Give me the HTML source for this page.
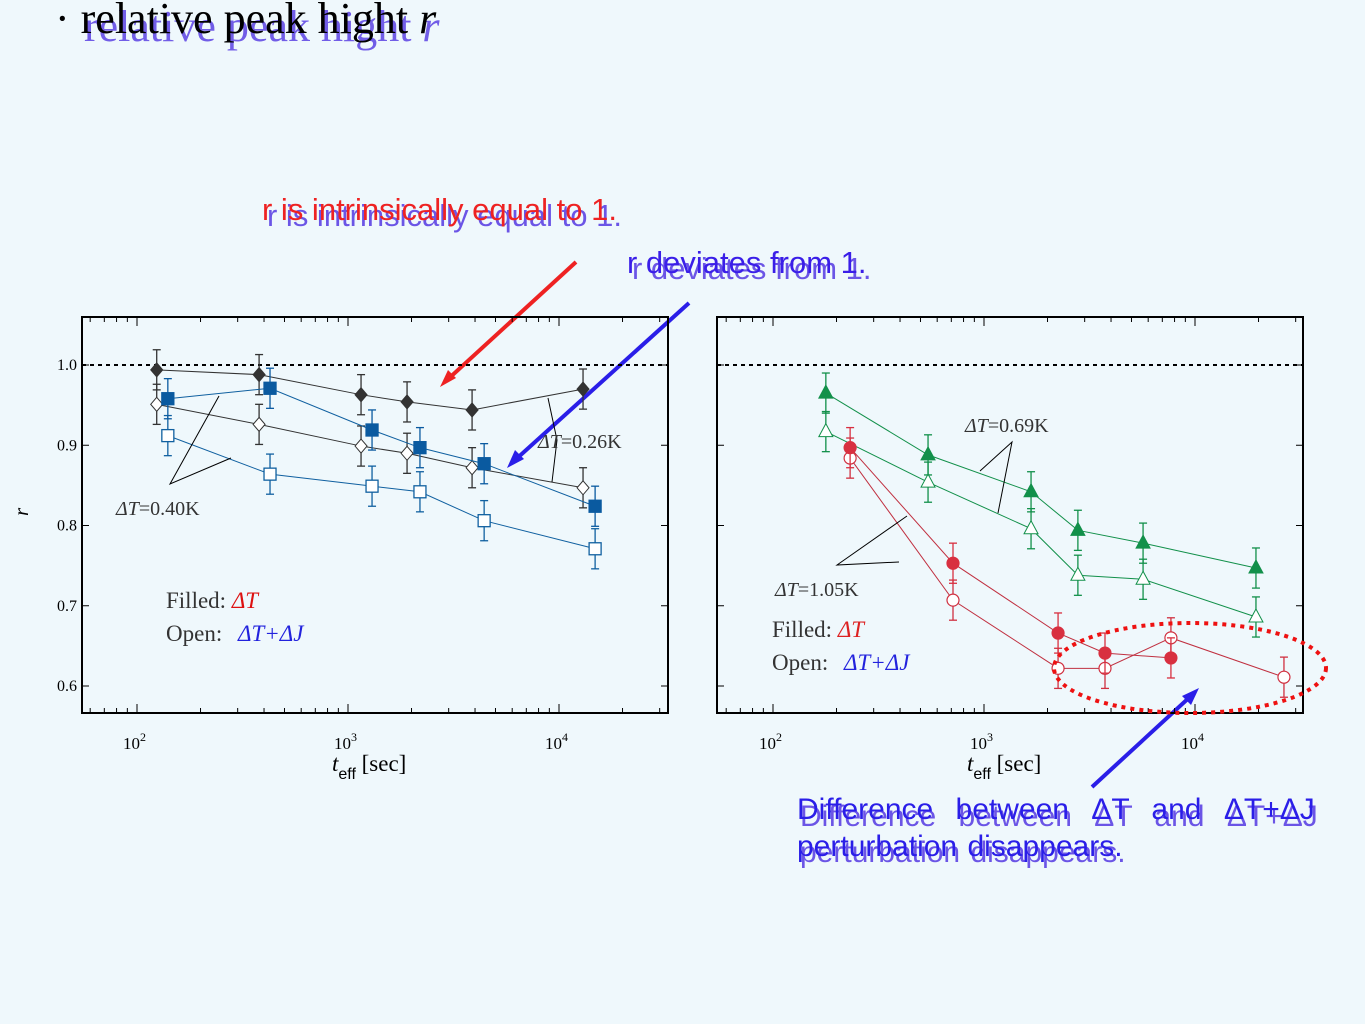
<!DOCTYPE html>
<html><head><meta charset="utf-8">
<style>
body{margin:0;width:1365px;height:1024px;background:#eff8fc;overflow:hidden;font-family:"Liberation Serif",serif;}
svg{position:absolute;left:0;top:0}
</style></head>
<body>
<svg id="s" width="1365" height="1024" xmlns="http://www.w3.org/2000/svg">
<g font-family="Liberation Serif, serif" font-size="44">
<text x="84" y="41" fill="#6b55e6" opacity="0.95">relative peak hight <tspan font-style="italic">r</tspan></text>
<text x="55" y="33" fill="#000">· relative peak hight <tspan font-style="italic">r</tspan></text>
</g>
<g font-family="Liberation Sans, sans-serif" font-size="31">
<text x="267" y="226" fill="#6b55e6">r is intrinsically equal to 1.</text>
<text x="262" y="220" fill="#ee2222">r is intrinsically equal to 1.</text>
</g>
<g font-family="Liberation Sans, sans-serif" font-size="31">
<text x="632" y="279" fill="#6b55e6">r deviates from 1.</text>
<text x="627" y="273" fill="#3a1ee8">r deviates from 1.</text>
</g>
<g font-family="Liberation Sans, sans-serif" font-size="30" word-spacing="14">
<text x="800" y="826" fill="#6b55e6">Difference between ΔT and ΔT+ΔJ</text>
<text x="797" y="819" fill="#2a1ee8">Difference between ΔT and ΔT+ΔJ</text>
<text x="800" y="862" fill="#6b55e6" word-spacing="2">perturbation disappears.</text>
<text x="797" y="856" fill="#2a1ee8" word-spacing="2">perturbation disappears.</text>
</g>
<g>
<line x1="576" y1="262" x2="446" y2="381" stroke="#ee2222" stroke-width="4"/>
<polygon points="440,387 448,370 456,378" fill="#ee2222"/>
<line x1="689" y1="303" x2="514" y2="461" stroke="#2a1ee8" stroke-width="4"/>
<polygon points="507,468 515,450 524,459" fill="#2a1ee8"/>
<line x1="1092" y1="787" x2="1192" y2="695" stroke="#2a1ee8" stroke-width="4"/>
<polygon points="1199,688 1191,705 1182,696" fill="#2a1ee8"/>
</g>
<g id="p1"></g><g id="p2"></g>
<ellipse cx="1190" cy="668" rx="136" ry="45" fill="none" stroke="#ee1111" stroke-width="4" stroke-dasharray="4,5"/>
</svg>
<script>
// Left chart data
const xL_black=[124,379,1153,1905,3873,13000];
const yL_filledDiamond=[0.994,0.988,0.963,0.954,0.944,0.970];
const yL_openDiamond=[0.951,0.926,0.899,0.890,0.872,0.847];
const xL_blue=[140,427,1300,2193,4418,14830];
const yL_filledSquare=[0.958,0.971,0.919,0.897,0.877,0.824];
const yL_openSquare=[0.912,0.864,0.849,0.842,0.806,0.771];
// Right chart data
const xR_green=[178,543,1671,2786,5674,19450];
const yR_filledTri=[0.965,0.888,0.842,0.794,0.778,0.747];
const yR_openTri=[0.917,0.854,0.796,0.738,0.733,0.686];
const xR_redFilled=[232,713,2244,3745,7690];
const yR_filledCircle=[0.897,0.753,0.666,0.641,0.635];
const xR_redOpen=[232,713,2244,3745,7690,26400];
const yR_openCircle=[0.884,0.707,0.622,0.622,0.660,0.611];
const yTicks=[0.6,0.7,0.8,0.9,1.0];
const yTickLabels=["0.6","0.7","0.8","0.9","1.0"];
const xDecades=[2,3,4];
const errR=0.025;

const NS="http://www.w3.org/2000/svg";
function mk(parent,tag,attrs){const e=document.createElementNS(NS,tag);for(const k in attrs)e.setAttribute(k,attrs[k]);parent.appendChild(e);return e;}
function yS(v){return 365+(1.0-v)*802.5;}

function frame(g,x0,x1,dec0,showY,titleX){
  const xs=v=>dec0+(Math.log10(v)-2)*211;
  const r=mk(g,'rect',{x:x0,y:317,width:x1-x0,height:396,fill:'none',stroke:'#000','stroke-width':2});
  
  
  const dl=mk(g,'line',{x1:x0,x2:x1,y1:yS(1),y2:yS(1),stroke:'#000','stroke-width':2,'stroke-dasharray':'4,4'});
  
  
  yTicks.forEach((t,i)=>{
    mk(g,'line',{x1:x0,x2:x0+7,y1:yS(t),y2:yS(t),stroke:'#000'});
    mk(g,'line',{x1:x1-7,x2:x1,y1:yS(t),y2:yS(t),stroke:'#000'});
    if(showY){const tx=mk(g,'text',{x:x0-5,y:yS(t)+5,'text-anchor':'end','font-size':16,fill:'#000'});tx.textContent=yTickLabels[i];
      
      }
  });
  for(let d=1;d<=4;d++)for(let m=1;m<10;m++){
    const v=Math.pow(10,d)*m;const px=xs(v);if(px<x0||px>x1)continue;
    const L=m==1?9:5;
    mk(g,'line',{x1:px,x2:px,y1:713,y2:713-L,stroke:'#000'});
    mk(g,'line',{x1:px,x2:px,y1:317,y2:317+L,stroke:'#000'});
  }
  xDecades.forEach(d=>{
    const tx=mk(g,'text',{x:xs(Math.pow(10,d))-14,y:749,'font-size':17,fill:'#000'});
    tx.innerHTML='10<tspan dy="-8" font-size="12">'+d+'</tspan>';
    
    
  });
  const xl=mk(g,'text',{x:titleX,y:771,'font-size':23,fill:'#000'});
  xl.innerHTML='<tspan font-style="italic">t</tspan><tspan dy="8" font-size="16" font-family="Liberation Sans">eff</tspan><tspan dy="-8"> [sec]</tspan>';
  
  
  return xs;
}

function series(g,name,xsArr,ysArr,xs,color,marker,filled,lineColor){
  const sg=mk(g,'g',{});
  
  
  const pts=xsArr.map((x,i)=>[xs(x),yS(ysArr[i])]);
  mk(sg,'polyline',{points:pts.map(p=>p.join(',')).join(' '),fill:'none',stroke:lineColor,'stroke-width':1});
  pts.forEach(([px,py],i)=>{
    const e=errR*802.5;
    mk(sg,'line',{x1:px,x2:px,y1:py-e,y2:py+e,stroke:color,'stroke-width':1.3});
    mk(sg,'line',{x1:px-4,x2:px+4,y1:py-e,y2:py-e,stroke:color,'stroke-width':1.3});
    mk(sg,'line',{x1:px-4,x2:px+4,y1:py+e,y2:py+e,stroke:color,'stroke-width':1.3});
    const f=filled?color:'#fff';let m;
    if(marker=='diamond')m=mk(sg,'polygon',{points:`${px},${py-7} ${px+6},${py} ${px},${py+7} ${px-6},${py}`,fill:f,stroke:color});
    else if(marker=='square')m=mk(sg,'rect',{x:px-6,y:py-6,width:12,height:12,fill:f,stroke:color,'stroke-width':1.3});
    else if(marker=='tri')m=mk(sg,'polygon',{points:`${px},${py-8} ${px+7},${py+5} ${px-7},${py+5}`,fill:f,stroke:color});
    else m=mk(sg,'circle',{cx:px,cy:py,r:6,fill:f,stroke:color,'stroke-width':1.2});
    
    
  });
}

const g1=document.getElementById('p1');


const xs1=frame(g1,82,668,137,true,332);
series(g1,'black-open-diamonds',xL_black,yL_openDiamond,xs1,'#333','diamond',false,'#333');
series(g1,'black-filled-diamonds',xL_black,yL_filledDiamond,xs1,'#333','diamond',true,'#333');
series(g1,'blue-open-squares',xL_blue,yL_openSquare,xs1,'#1060a0','square',false,'#1060a0');
series(g1,'blue-filled-squares',xL_blue,yL_filledSquare,xs1,'#0a5aa0','square',true,'#1060a0');

const g2=document.getElementById('p2');


const xs2=frame(g2,717,1303,773,false,967);
series(g2,'green-open-triangles',xR_green,yR_openTri,xs2,'#12904a','tri',false,'#12904a');
series(g2,'green-filled-triangles',xR_green,yR_filledTri,xs2,'#12904a','tri',true,'#12904a');
series(g2,'red-open-circles',xR_redOpen,yR_openCircle,xs2,'#d03040','circle',false,'#c03040');
series(g2,'red-filled-circles',xR_redFilled,yR_filledCircle,xs2,'#d83040','circle',true,'#c03040');

const s=document.getElementById('s');
const extra=`
<text x="28" y="516" font-size="21" font-style="italic" transform="rotate(-90 28 516)">r</text>
<g stroke="#000" stroke-width="1" fill="none">
<polyline points="219,396 170,484 231,458"/></g>
<text x="116" y="515" font-size="20" fill="#333"><tspan font-style="italic">ΔT</tspan>=0.40K</text>
<g stroke="#000" stroke-width="1" fill="none">
<polyline points="548,398 557,440 552,482"/></g>
<text x="538" y="448" font-size="20" fill="#333"><tspan font-style="italic">ΔT</tspan>=0.26K</text>
<text x="166" y="608" font-size="23" fill="#333">Filled: <tspan fill="#dd1111" font-style="italic">ΔT</tspan></text>
<text x="166" y="641" font-size="23" fill="#333">Open:  <tspan fill="#2222dd" font-style="italic" dx="10">ΔT+ΔJ</tspan></text>
<g stroke="#000" stroke-width="1" fill="none">
<polyline points="980,471 1012,442 998,513"/></g>
<text x="965" y="432" font-size="20" fill="#333"><tspan font-style="italic">ΔT</tspan>=0.69K</text>
<g stroke="#000" stroke-width="1" fill="none">
<polyline points="907,516 837,565 899,562"/></g>
<text x="775" y="596" font-size="20" fill="#333"><tspan font-style="italic">ΔT</tspan>=1.05K</text>
<text x="772" y="637" font-size="23" fill="#333">Filled: <tspan fill="#dd2222" font-style="italic">ΔT</tspan></text>
<text x="772" y="670" font-size="23" fill="#333">Open:  <tspan fill="#2222dd" font-style="italic" dx="10">ΔT+ΔJ</tspan></text>`;
s.insertAdjacentHTML('beforeend',extra);
</script>
</body></html>
